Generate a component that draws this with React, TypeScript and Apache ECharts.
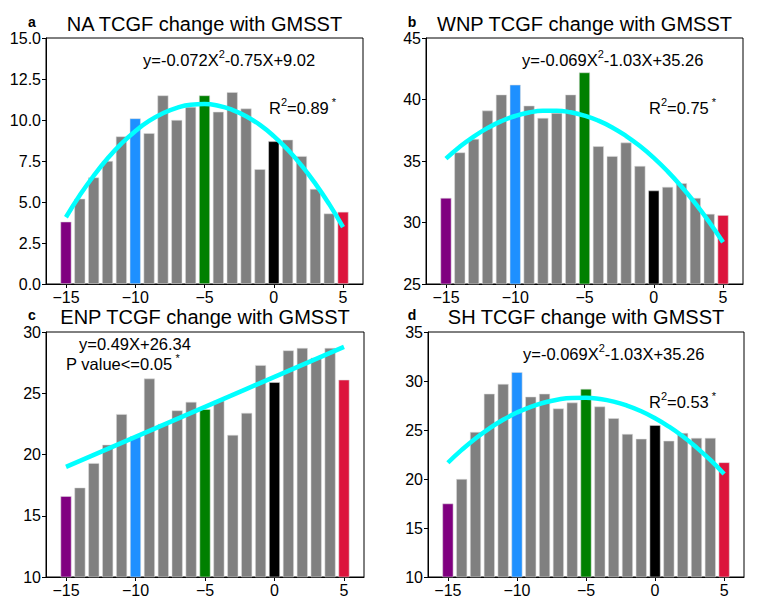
import React, { useEffect, useRef } from "react";
import * as echarts from "echarts";

const xValues = [-15, -14, -13, -12, -11, -10, -9, -8, -7, -6, -5, -4, -3, -2, -1, 0, 1, 2, 3, 4, 5];
const xTicks = [-15, -10, -5, 0, 5];

const naBars = [3.8, 5.2, 6.5, 7.5, 9.0, 10.1, 9.2, 11.5, 10.0, 10.8, 11.5, 10.5, 11.7, 10.7, 7.0, 8.7, 8.8, 7.8, 5.8, 4.3, 4.4];
const naFit = [4.07, 5.41, 6.6, 7.65, 8.56, 9.32, 9.94, 10.41, 10.74, 10.93, 10.97, 10.87, 10.62, 10.23, 9.7, 9.02, 8.2, 7.23, 6.12, 4.87, 3.47];

const wnpBars = [32.0, 35.7, 36.8, 39.1, 40.4, 41.2, 39.5, 38.5, 38.9, 40.4, 42.2, 36.2, 35.4, 36.5, 34.6, 32.6, 32.9, 33.2, 32.0, 30.7, 30.6];
const wnpFit = [35.19, 36.16, 36.99, 37.68, 38.24, 38.66, 38.94, 39.08, 39.09, 38.96, 38.69, 38.28, 37.73, 37.04, 36.22, 35.26, 34.16, 32.92, 31.55, 30.04, 28.39];

const enpBars = [16.6, 17.3, 19.3, 20.8, 23.3, 21.5, 26.2, 22.5, 23.6, 24.3, 23.7, 24.4, 21.6, 23.4, 27.3, 25.9, 28.5, 28.7, 27.9, 28.7, 26.1];
const enpFit = [18.99, 19.48, 19.97, 20.46, 20.95, 21.44, 21.93, 22.42, 22.91, 23.4, 23.89, 24.38, 24.87, 25.36, 25.85, 26.34, 26.83, 27.32, 27.81, 28.3, 28.79];

const shBars = [17.5, 20.0, 24.8, 28.7, 29.7, 30.9, 28.4, 28.7, 27.2, 27.8, 29.2, 27.4, 26.2, 24.6, 24.1, 25.5, 23.9, 24.7, 24.2, 24.2, 21.7];
const shFit = [21.66, 22.97, 24.14, 25.16, 26.04, 26.78, 27.37, 27.81, 28.12, 28.27, 28.29, 28.16, 27.89, 27.47, 26.91, 26.2, 25.35, 24.36, 23.22, 21.94, 20.51];

const panelTitles = ["NA TCGF change with GMSST", "WNP TCGF change with GMSST", "ENP TCGF change with GMSST", "SH TCGF change with GMSST"];
const panelLetters = ["a", "b", "c", "d"];
const yMins = [0, 25, 10, 10];
const yMaxs = [15, 45, 30, 35];
const yIntervals = [2.5, 5, 5, 5];

const highlightColors: Record<string, string> = {
  "-15": "#800080",
  "-10": "#1e90ff",
  "-5": "#008000",
  "0": "#000000",
  "5": "#dc143c",
};

const FONT = "Liberation Sans, Arial, Helvetica, sans-serif";

const grids = [
  { left: 46, top: 38, width: 317, height: 246 },
  { left: 426, top: 38, width: 317, height: 246 },
  { left: 46, top: 332, width: 318, height: 245 },
  { left: 428, top: 332, width: 316, height: 245 },
];

export default function App() {
  const ref = useRef<HTMLDivElement>(null);
  useEffect(() => {
    if (!ref.current) return;
    const chart = echarts.init(ref.current, null, { renderer: "svg" });
    const bars = [naBars, wnpBars, enpBars, shBars];
    const fits = [naFit, wnpFit, enpFit, shFit];

    const xAxis = grids.map((_, i) => ({
      type: "value",
      gridIndex: i,
      min: -16.44,
      max: 6.44,
      splitLine: { show: false },
      axisLine: { show: true, onZero: false, lineStyle: { color: "#000", width: 1 } },
      axisTick: { show: true, inside: false, length: 4, customValues: xTicks, lineStyle: { color: "#000" } },
      axisLabel: {
        customValues: xTicks,
        color: "#000",
        fontSize: 16,
        fontFamily: FONT,
        margin: 5,
        formatter: (v: number) => (v < 0 ? "\u2212" + Math.abs(v) : String(v)),
      },
    }));

    const yAxis = grids.map((_, i) => ({
      type: "value",
      gridIndex: i,
      min: yMins[i],
      max: yMaxs[i],
      interval: yIntervals[i],
      splitLine: { show: false },
      axisLine: { show: true, onZero: false, lineStyle: { color: "#000", width: 1 } },
      axisTick: { show: true, inside: false, length: 4, lineStyle: { color: "#000" } },
      axisLabel: {
        color: "#000",
        fontSize: 16,
        fontFamily: FONT,
        margin: 5,
        formatter: (v: number) => (i === 0 ? v.toFixed(1) : String(v)),
      },
    }));

    const series: any[] = [];
    grids.forEach((_, i) => {
      series.push({
        type: "bar",
        xAxisIndex: i,
        yAxisIndex: i,
        barWidth: 11,
        clip: true,
        data: xValues.map((x, j) => ({
          value: [x, bars[i][j]],
          itemStyle: {
            color: highlightColors[String(x)] || "#808080",
            borderColor: "rgba(220,220,220,0.9)",
            borderWidth: 0.6,
          },
        })),
      });
      series.push({
        type: "line",
        xAxisIndex: i,
        yAxisIndex: i,
        smooth: i !== 2,
        showSymbol: false,
        symbol: "none",
        z: 5,
        lineStyle: { color: "#00ffff", width: 4.5 },
        data: xValues.map((x, j) => [x, fits[i][j]]),
      });
    });

    const base = { fontSize: 16.5, fontFamily: FONT, fill: "#000", lineHeight: 20, verticalAlign: "bottom" };
    const sup = { fontSize: 11, fontFamily: FONT, fill: "#000", lineHeight: 20, verticalAlign: "top" };
    const rich = { a: base, s: sup };

    const texts: any[] = [];
    grids.forEach((g, i) => {
      texts.push({
        type: "text",
        x: g.left + g.width / 2,
        y: i < 2 ? 24 : 317,
        style: { text: panelTitles[i], fontSize: 20, fontFamily: FONT, fill: "#000", textAlign: "center", textVerticalAlign: "middle" },
      });
      texts.push({
        type: "text",
        x: i % 2 === 0 ? 32 : 412,
        y: i < 2 ? 22 : 315,
        style: { text: panelLetters[i], fontSize: 14, fontWeight: "bold", fontFamily: FONT, fill: "#000", textAlign: "center", textVerticalAlign: "middle" },
      });
    });

    const richText = (x: number, y: number, text: string) => ({
      type: "text",
      x,
      y,
      style: { text, rich, textAlign: "left", textVerticalAlign: "middle" },
    });

    texts.push(richText(143, 58, "{a|y=-0.072X}{s|2}{a|-0.75X+9.02}"));
    texts.push(richText(269, 106, "{a|R}{s|2}{a|=0.89}{s| *}"));
    texts.push(richText(522, 58, "{a|y=-0.069X}{s|2}{a|-1.03X+35.26}"));
    texts.push(richText(649, 106, "{a|R}{s|2}{a|=0.75}{s| *}"));
    texts.push(richText(79, 342, "{a|y=0.49X+26.34}"));
    texts.push(richText(66, 362, "{a|P value<=0.05}{s| *}"));
    texts.push(richText(523, 352, "{a|y=-0.069X}{s|2}{a|-1.03X+35.26}"));
    texts.push(richText(649, 400, "{a|R}{s|2}{a|=0.53}{s| *}"));

    chart.setOption({
      animation: false,
      backgroundColor: "#fff",
      grid: grids.map((g) => ({ ...g, show: true, borderColor: "#000", borderWidth: 1, backgroundColor: "transparent", containLabel: false })),
      xAxis,
      yAxis,
      series,
      graphic: { elements: texts },
    });
    return () => chart.dispose();
  }, []);
  return <div ref={ref} style={{ position: "fixed", left: 0, top: 0, width: 763, height: 607 }} />;
}
